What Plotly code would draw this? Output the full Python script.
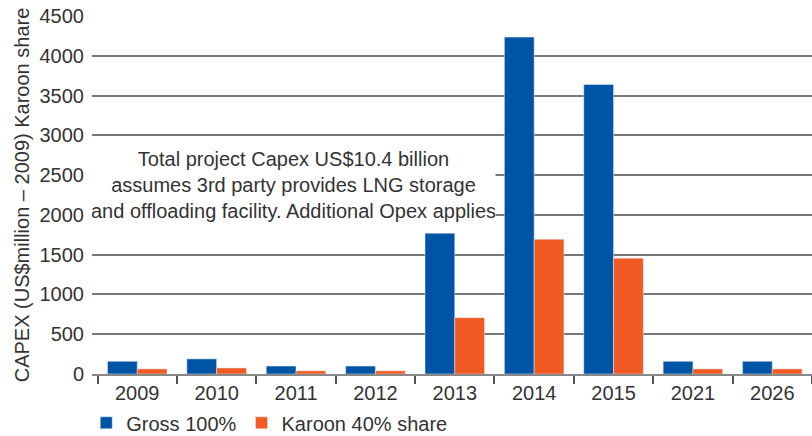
import plotly.graph_objects as go

anos = ['2009', '2010', '2011', '2012', '2013', '2014', '2015', '2021', '2026']
gross = [160, 190, 100, 100, 1770, 4235, 3640, 160, 160]
karoon = [64, 76, 40, 40, 708, 1694, 1456, 64, 64]
y_ticks = [0, 500, 1000, 1500, 2000, 2500, 3000, 3500, 4000, 4500]

fonte = dict(family="Liberation Sans, Arial", size=20, color="#333333")

fig = go.Figure()
fig.add_trace(go.Bar(x=anos, y=gross, name='Gross 100%', marker_color='#0054A6'))
fig.add_trace(go.Bar(x=anos, y=karoon, name='Karoon 40% share', marker_color='#F15A22'))

# texto explicativo com fundo branco por cima das linhas de grade
fig.add_annotation(
    text="Total project Capex US$10.4 billion<br>assumes 3rd party provides LNG storage<br>and offloading facility. Additional Opex applies",
    x=1.97, y=2375, xref='x', yref='y', showarrow=False,
    font=fonte, align='center', bgcolor='white', width=403, height=92, borderpad=0,
)

fig.update_layout(
    width=812, height=436,
    margin=dict(l=92, r=0, t=16, b=62, autoexpand=False),
    plot_bgcolor='white', paper_bgcolor='white',
    font=fonte,
    barmode='group', bargap=0.25, bargroupgap=0,
    showlegend=True,
    legend=dict(orientation='h', x=-0.008, y=-0.082, xanchor='left', yanchor='top',
                font=fonte, itemwidth=30),
)
fig.update_xaxes(
    range=[-0.57, 8.5], showgrid=False, showline=True, linecolor='#888888', linewidth=1.5,
    ticks='outside', tickson='boundaries', ticklen=8, tickcolor='#555555', tickwidth=1.5,
    automargin=False,
)
fig.update_yaxes(
    range=[0, 4500], tickvals=y_ticks, showgrid=True, gridcolor='#777777', gridwidth=1.5,
    zeroline=False, showline=False, ticks='', ticklabelstandoff=7, automargin=False,
    title=dict(text='CAPEX (US$million – 2009) Karoon share', font=fonte, standoff=4),
)

# tira a margem padrão do body da página para o gráfico ficar no canto
fig.write_html("out.html", config={'displayModeBar': False},
               post_script="document.body.style.margin = '0';")
